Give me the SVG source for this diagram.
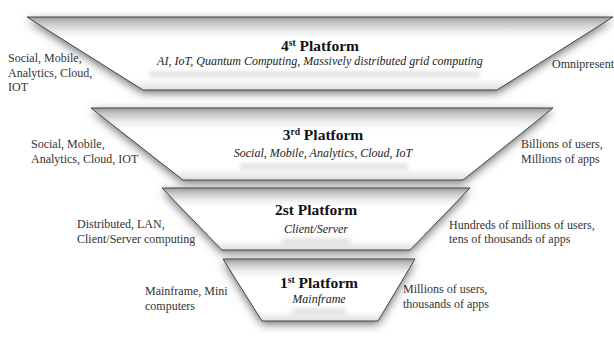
<svg xmlns="http://www.w3.org/2000/svg" width="614" height="338" viewBox="0 0 614 338">
  <style>
    .tier { fill: url(#bevel); stroke: #484848; stroke-width: 1; }
    .halo { fill: #6e6e6e; filter: url(#soft); }
    .smudge { fill: #dadada; filter: url(#smear); }
    .title { font-weight: bold; font-size: 15.5px; fill: #111; text-anchor: middle; }
    .sub { font-style: italic; font-size: 12px; fill: #222; text-anchor: middle; }
    .note { font-size: 12px; fill: #333; }
    .sup { font-size: 9.5px; }
  </style>
  <defs>
    <linearGradient id="bevel" x1="0" y1="0" x2="0" y2="1">
      <stop offset="0" stop-color="#9a9a9a"/>
      <stop offset="0.08" stop-color="#c6c6c6"/>
      <stop offset="0.2" stop-color="#eeeeee"/>
      <stop offset="0.3" stop-color="#ffffff"/>
      <stop offset="0.84" stop-color="#ffffff"/>
      <stop offset="1" stop-color="#dedede"/>
    </linearGradient>
    <filter id="soft" x="-20%" y="-40%" width="140%" height="180%">
      <feGaussianBlur stdDeviation="5"/>
    </filter>
    <filter id="smear" x="-20%" y="-100%" width="140%" height="300%">
      <feGaussianBlur stdDeviation="2.5"/>
    </filter>
  </defs>

  <rect width="614" height="338" fill="#ffffff"/>

  <g font-family="Liberation Serif, Times New Roman, serif">
  <!-- top tier -->
  <g id="platform4">
    <polygon class="halo" points="27,17 613,17 497,90 143,90" transform="translate(0,3)"/>
    <polygon class="tier" points="27,17 613,17 497,90 143,90"/>
    <rect class="smudge" x="150" y="72" width="330" height="5"/>
    <text class="title" x="320" y="51">4<tspan class="sup" dy="-5">st</tspan><tspan dy="5"> Platform</tspan></text>
    <text class="sub" x="320" y="65">AI, IoT, Quantum Computing, Massively distributed grid computing</text>
    <text class="note" x="8" y="62">Social, Mobile,</text>
    <text class="note" x="8" y="76.5">Analytics, Cloud,</text>
    <text class="note" x="8" y="91">IOT</text>
    <text class="note" x="552" y="68">Omnipresent</text>
  </g>

  <g id="platform3">
    <polygon class="halo" points="91,108 553,108 463,180 183,180" transform="translate(0,3)"/>
    <polygon class="tier" points="91,108 553,108 463,180 183,180"/>
    <rect class="smudge" x="240" y="164" width="168" height="5"/>
    <text class="title" x="323" y="140">3<tspan class="sup" dy="-5">rd</tspan><tspan dy="5"> Platform</tspan></text>
    <text class="sub" x="323" y="157">Social, Mobile, Analytics, Cloud, IoT</text>
    <text class="note" x="31" y="148">Social, Mobile,</text>
    <text class="note" x="31" y="163">Analytics, Cloud, IOT</text>
    <text class="note" x="521" y="148">Billions of users,</text>
    <text class="note" x="521" y="163">Millions of apps</text>
  </g>

  <g id="platform2">
    <polygon class="halo" points="162,188 470,188 410,250 222,250" transform="translate(0,3)"/>
    <polygon class="tier" points="162,188 470,188 410,250 222,250"/>
    <rect class="smudge" x="282" y="239" width="68" height="5"/>
    <text class="title" x="316" y="215">2st Platform</text>
    <text class="sub" x="316" y="233">Client/Server</text>
    <text class="note" x="77" y="228">Distributed, LAN,</text>
    <text class="note" x="77" y="243">Client/Server computing</text>
    <text class="note" x="449" y="229">Hundreds of millions of users,</text>
    <text class="note" x="449" y="243">tens of thousands of apps</text>
  </g>

  <g id="platform1">
    <polygon class="halo" points="223,259 415,259 378,321 262,321" transform="translate(0,3)"/>
    <polygon class="tier" points="223,259 415,259 378,321 262,321"/>
    <rect class="smudge" x="292" y="309" width="54" height="5"/>
    <text class="title" x="319" y="288">1<tspan class="sup" dy="-5">st</tspan><tspan dy="5"> Platform</tspan></text>
    <text class="sub" x="319" y="303">Mainframe</text>
    <text class="note" x="145" y="295">Mainframe, Mini</text>
    <text class="note" x="145" y="310">computers</text>
    <text class="note" x="403" y="293">Millions of users,</text>
    <text class="note" x="403" y="308">thousands of apps</text>
  </g>
  </g>

  <g id="connectors"/>
</svg>
